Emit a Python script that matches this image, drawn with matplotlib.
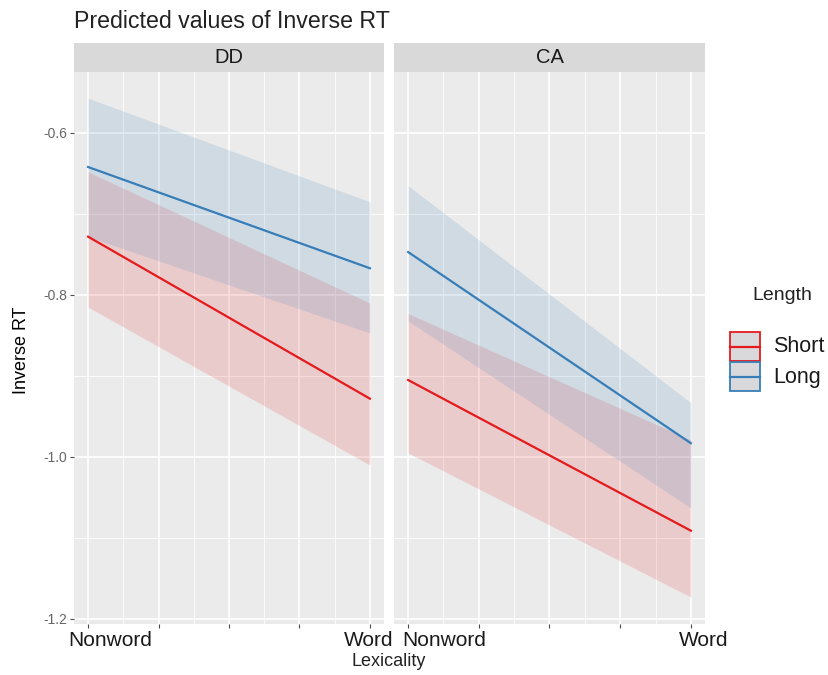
import matplotlib
matplotlib.use('Agg')
from matplotlib import pyplot as plt
from matplotlib.patches import Rectangle

plt.rcParams['font.family'] = ['Liberation Sans', 'DejaVu Sans']
plt.rcParams['axes.unicode_minus'] = False

lexicality = ['Nonword', 'Word']
lex_x = [0, 1]
groups = ['DD', 'CA']
lengths = ['Short', 'Long']
y_ticks = [-1.2, -1.0, -0.8, -0.6]

# predicted inverse RT and 95% CI (Nonword, Word)
dd_short_pred = [-0.728, -0.928]
dd_short_low = [-0.815, -1.010]
dd_short_high = [-0.648, -0.810]
dd_long_pred = [-0.642, -0.767]
dd_long_low = [-0.728, -0.847]
dd_long_high = [-0.557, -0.685]

ca_short_pred = [-0.905, -1.091]
ca_short_low = [-0.995, -1.173]
ca_short_high = [-0.823, -0.979]
ca_long_pred = [-0.747, -0.983]
ca_long_low = [-0.832, -1.063]
ca_long_high = [-0.665, -0.933]

preds = {
    'DD': {'Short': (dd_short_pred, dd_short_low, dd_short_high),
           'Long': (dd_long_pred, dd_long_low, dd_long_high)},
    'CA': {'Short': (ca_short_pred, ca_short_low, ca_short_high),
           'Long': (ca_long_pred, ca_long_low, ca_long_high)},
}
colors = {'Short': '#E41A1C', 'Long': '#377EB8'}

W, H = 829, 675
fig = plt.figure(figsize=(W / 100, H / 100), dpi=100)


def px_axes(x0, y0, x1, y1):
    return fig.add_axes([x0 / W, 1 - y1 / H, (x1 - x0) / W, (y1 - y0) / H])


panels = [(74, 384), (394, 705)]
# where the category labels sit under each panel (data units)
label_x = {'DD': [0.078, 0.996], 'CA': [0.128, 1.046]}

for i, (g, (x0, x1)) in enumerate(zip(groups, panels)):
    ax = px_axes(x0, 72, x1, 624)
    ax.set_facecolor('#EBEBEB')
    for s in ax.spines.values():
        s.set_visible(False)
    ax.set_axisbelow(True)

    ax.set_xticks([0, 0.25, 0.5, 0.75, 1])
    ax.set_xticks([0.125, 0.375, 0.625, 0.875], minor=True)
    ax.set_yticks(y_ticks)
    ax.set_yticks([-1.1, -0.9, -0.7], minor=True)
    ax.grid(which='major', color='white', lw=1.2)
    ax.grid(which='minor', color='white', lw=0.6)
    ax.tick_params(which='minor', length=0)
    ax.tick_params(axis='x', which='major', length=3, width=0.8,
                   color='#4d4d4d', labelbottom=False)
    if i == 0:
        ax.set_yticklabels(['%.1f' % v for v in y_ticks])
        ax.tick_params(axis='y', which='major', length=3, width=0.8,
                       color='#4d4d4d', labelsize=10, labelcolor='#666666', pad=2)
    else:
        ax.tick_params(axis='y', which='major', length=0, labelleft=False)

    for ln in lengths:
        pred, low, high = preds[g][ln]
        ax.fill_between(lex_x, low, high, color=colors[ln], alpha=0.15, lw=0)
    for ln in lengths:
        pred, low, high = preds[g][ln]
        ax.plot(lex_x, pred, color=colors[ln], lw=1.6)

    ax.set_xlim(-0.05, 1.05)
    ax.set_ylim(-1.2062, -0.5247)

    for lx, lab in zip(label_x[g], lexicality):
        ax.text(lx, -0.012, lab, transform=ax.get_xaxis_transform(),
                ha='center', va='top', fontsize=15, color='#1a1a1a')

    sax = px_axes(x0, 43, x1, 72)
    sax.set_facecolor('#D9D9D9')
    sax.set_xticks([])
    sax.set_yticks([])
    for s in sax.spines.values():
        s.set_visible(False)
    sax.text(0.5, 0.5, g, ha='center', va='center', fontsize=14.5,
             color='#1a1a1a', transform=sax.transAxes)

fig.text(74 / W, 1 - 28 / H, 'Predicted values of Inverse RT', fontsize=16.7,
         ha='left', va='baseline', color='#222222')
fig.text(22 / W, 1 - 350 / H, 'Inverse RT', rotation=90, fontsize=13,
         ha='center', va='center')
fig.text(389 / W, 1 - 662 / H, 'Lexicality', fontsize=13,
         ha='center', va='center', color='#222222')

# legend drawn by hand in a pixel-space overlay
lax = px_axes(715, 270, 829, 410)
lax.set_xlim(715, 829)
lax.set_ylim(410, 270)
lax.axis('off')
lax.text(782, 295, 'Length', ha='center', va='center', fontsize=14,
         color='#222222')
for k, ln in enumerate(lengths):
    top = 332 + 30 * k
    lax.add_patch(Rectangle((730, top), 30, 29, facecolor='#d9d9dc',
                            edgecolor=colors[ln], lw=1.3))
    lax.plot([730, 760], [top + 14.5, top + 14.5], color=colors[ln], lw=1.6)
    lax.text(773, top + 15, ln, ha='left', va='center', fontsize=15.5,
             color='#1a1a1a')

fig.savefig('out.png', dpi=100)
